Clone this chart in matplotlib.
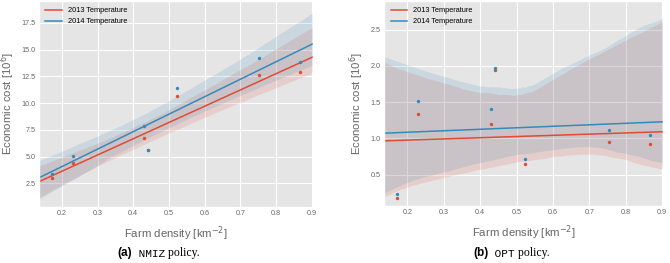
import itertools
import numpy as np
from matplotlib import pyplot as plt

# farm density values (same for both policies)
density = [0.172, 0.230, 0.430, 0.442, 0.522, 0.753, 0.867]

# NMIZ policy, economic cost [10^6]
nmiz_2013 = [3.00, 4.43, 6.79, 5.62, 10.68, 12.64, 12.95]
nmiz_2014 = [3.37, 5.08, 7.88, 5.64, 11.39, 14.23, 13.85]

# OPT policy, economic cost [10^6]
opt_2013 = [0.18, 1.33, 1.20, 1.94, 0.65, 0.95, 0.92]
opt_2014 = [0.23, 1.52, 1.41, 1.97, 0.72, 1.11, 1.05]

series_labels = ["2013 Temperature", "2014 Temperature"]
kleuren = ["#E24A33", "#348ABD"]

# vsechny mozne bootstrap vybery (7^7), takze bez nahody
n_bodu = len(density)
VYBERY = np.array(list(itertools.product(range(n_bodu), repeat=n_bodu)))


def regressie(ax, x, y, kleur, label):
    '''linearni fit s 95% bootstrap pasem, jako seaborn regplot'''
    x = np.asarray(x)
    y = np.asarray(y)
    b, a = np.polyfit(x, y, 1)
    span = x.max() - x.min()
    xs = np.linspace(x.min() - 0.05 * span, x.max() + 0.05 * span, 100)
    ys = a + b * xs

    bx = x[VYBERY]
    by = y[VYBERY]
    mx = bx.mean(axis=1)
    my = by.mean(axis=1)
    sxx = ((bx - mx[:, None]) ** 2).sum(axis=1)
    sxy = ((bx - mx[:, None]) * (by - my[:, None])).sum(axis=1)
    ok = sxx > 1e-9
    bb = sxy[ok] / sxx[ok]
    aa = my[ok] - bb * mx[ok]
    dolni = np.zeros(len(xs))
    horni = np.zeros(len(xs))
    for i, xv in enumerate(xs):
        dolni[i], horni[i] = np.percentile(aa + bb * xv, [2.5, 97.5])

    ax.scatter(x, y, s=6, color=kleur, zorder=3, linewidths=0)
    ax.plot(xs, ys, color=kleur, lw=1.1, label=label, zorder=2)
    ax.fill_between(xs, dolni, horni, color=kleur, alpha=0.15, lw=0)


plt.style.use("ggplot")
plt.rcParams['font.family'] = ['Liberation Sans', 'DejaVu Sans']
fig = plt.figure(figsize=(6.7, 2.63), dpi=100)
ax1 = fig.add_axes([0.058, 0.213, 0.409, 0.785])
ax2 = fig.add_axes([0.573, 0.217, 0.417, 0.781])

for ax, data in ((ax1, (nmiz_2013, nmiz_2014)), (ax2, (opt_2013, opt_2014))):
    for yy, kleur, lab in zip(data, kleuren, series_labels):
        regressie(ax, density, yy, kleur, lab)
    ax.set_xlim(0.1355, 0.9035)
    ax.set_xticks([0.2, 0.3, 0.4, 0.5, 0.6, 0.7, 0.8, 0.9])
    ax.tick_params(length=0, labelsize=5.2, colors="#666666", pad=2.5)
    ax.set_xlabel(r"Farm density [km$^{-2}$]", fontsize=8.2, color="#666666", labelpad=5)
    ax.set_ylabel(r"Economic cost [10$^{6}$]", fontsize=8.2, color="#666666", labelpad=3)
    ax.legend(loc="upper left", fontsize=5.3, frameon=False, handlelength=2.2)

ax1.set_yticks([2.5, 5.0, 7.5, 10.0, 12.5, 15.0, 17.5])
ax1.set_ylim(0.3, 19.6)
ax2.set_yticks([0.5, 1.0, 1.5, 2.0, 2.5])
ax2.set_ylim(0.07, 2.9)

# popisky pod grafy
for xc, tag, name in ((0.175, "(a)", "NMIZ"), (0.706, "(b)", "OPT")):
    t1 = fig.text(xc, 0.027, tag, fontsize=8.5, fontweight="bold")
    t2 = ax1.annotate(" " + name, xy=(1, 0), xycoords=t1, va="bottom", ha="left",
                      fontsize=8, family="Liberation Mono", annotation_clip=False)
    ax1.annotate(" policy.", xy=(1, 0), xycoords=t2, va="bottom", ha="left",
                 fontsize=8.5, family="Liberation Serif", annotation_clip=False)

fig.savefig("out.png", dpi=100)
